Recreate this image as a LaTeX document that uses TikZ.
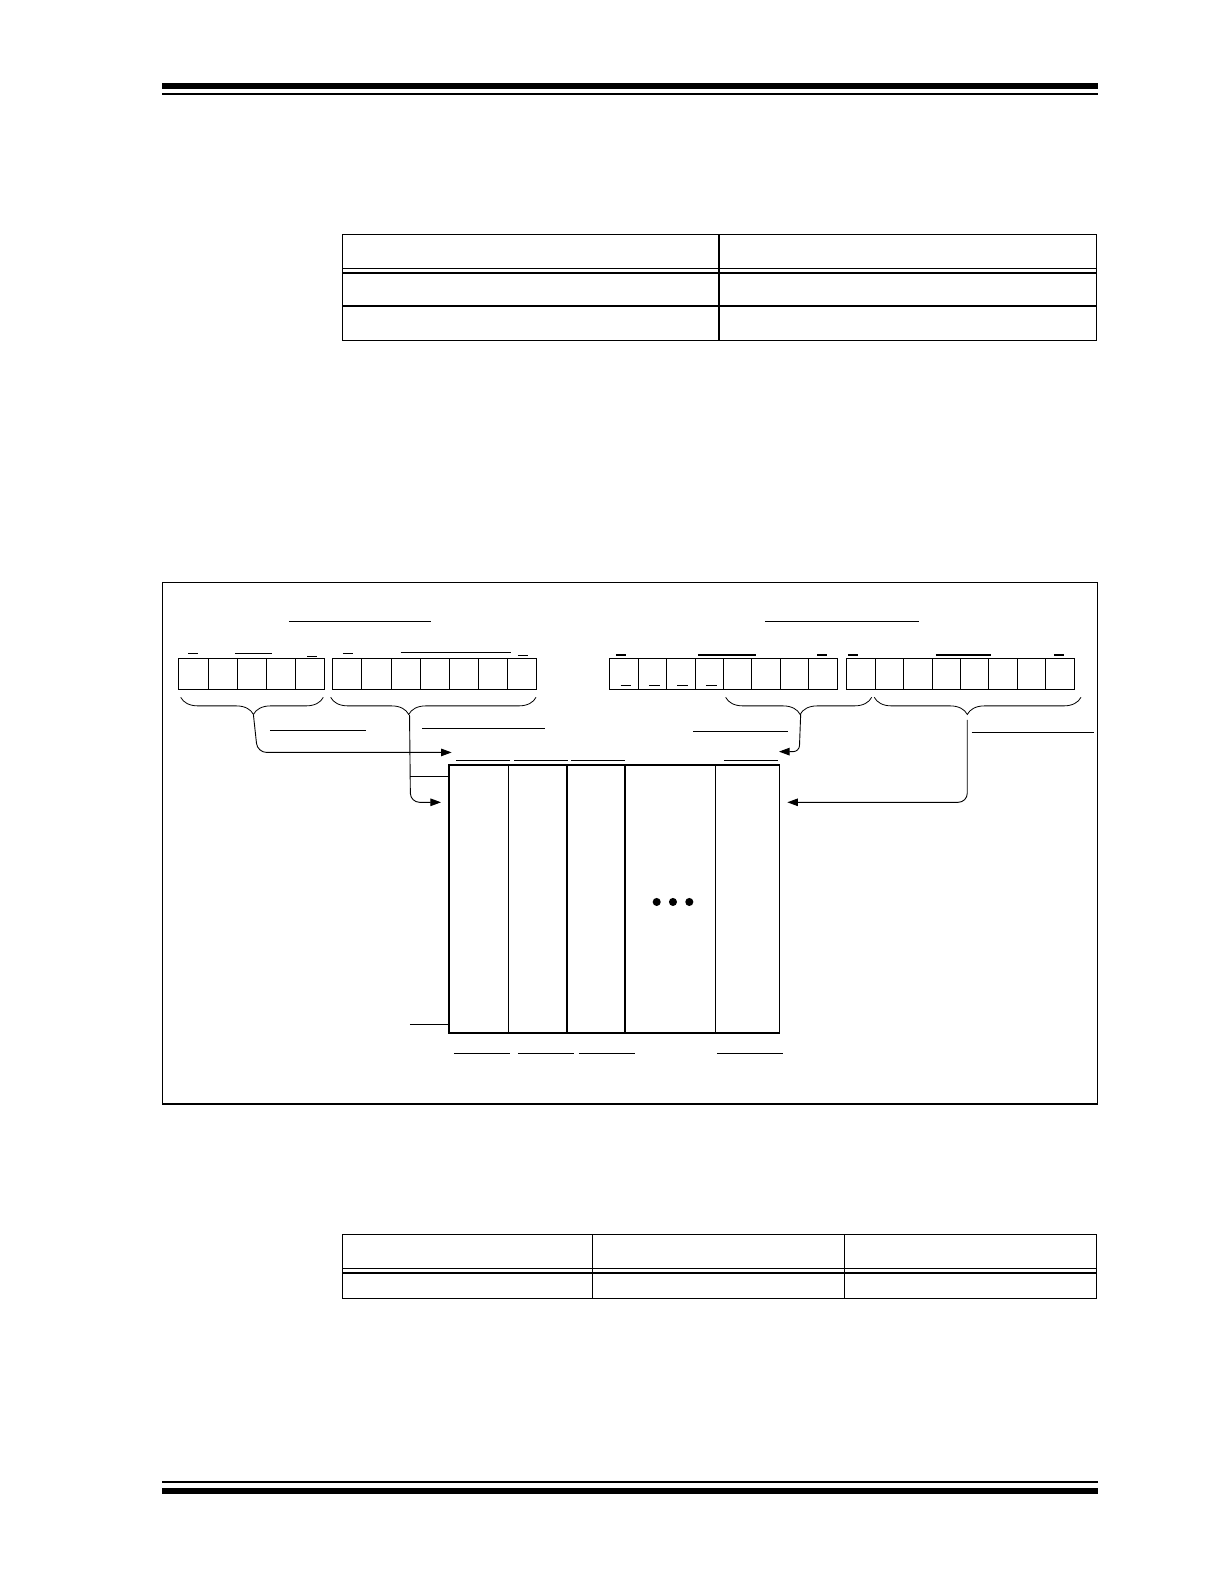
\documentclass[tikz,border=0pt]{standalone}
\usetikzlibrary{arrows.meta,decorations.pathreplacing,positioning}
\begin{document}
\begin{tikzpicture}[x=1pt, y=-1pt,
    frame/.style={line width=1.2pt},
    cell/.style={draw, line width=0.9pt, minimum height=30.5pt, inner sep=0pt, anchor=west},
    col/.style={draw, line width=1.2pt, minimum height=265.4pt, inner sep=0pt, anchor=north west},
    bar/.style={line width=0.9pt},
    hbar/.style={line width=1.8pt},
    brc/.style={decorate, decoration={brace, mirror, amplitude=17pt, aspect=#1}, line width=0.8pt},
    arr/.style={-{Triangle[length=10.5pt,width=7.5pt]}, line width=0.9pt, rounded corners=9pt}]
  \useasboundingbox (0,0) rectangle (1212.2,1568.8);
  \fill (160.7,81.9) rectangle (1087,88.1);
  \fill (160.7,91.8) rectangle (1087,93.8);
  \fill (160.7,1466.8) rectangle (1087,1468.8);
  \fill (160.7,1474) rectangle (1087,1479.7);
  \draw[frame]
    (339,232.1) rectangle (1086,337.4)
    (339,265.8) -- (1086,265.8)
    (339,270.4) -- (1086,270.4)
    (339,303.1) -- (1086,303.1)
    (712,232.1) -- (712,337.4)
  ;
  \draw[frame]
    (339,1222.5) rectangle (1086,1285.9)
    (339,1256.5) -- (1086,1256.5)
    (339,1260.8) -- (1086,1260.8)
    (587,1222.5) -- (587,1285.9)
    (836,1222.5) -- (836,1285.9)
  ;
  \draw[frame] (160.7,576.7) rectangle (1086.8,1093.4);
  \foreach \i in {1,...,5}
    \node[cell, minimum width=28.92] (ra\i) at ({176.6+(\i-1)*28.92},667.4) {};
  \foreach \i in {1,...,7}
    \node[cell, minimum width=28.87] (rb\i) at ({329.1+(\i-1)*28.87},667.4) {};
  \foreach \i in {1,...,8}
    \node[cell, minimum width=28.14] (rc\i) at ({603.5+(\i-1)*28.14},667.8) {};
  \foreach \i in {1,...,8}
    \node[cell, minimum width=28.15] (rd\i) at ({838.2+(\i-1)*28.15},667.8) {};
  \foreach \i in {1,...,4}
    \draw[bar] ([xshift=-3.4pt,yshift=5pt]rc\i.south) -- ++(10.7,0);
  \draw[bar]
    (286.2,615) -- (426.9,615)  (757.6,615) -- (910.2,615)
    (186.5,647.1) -- (195.8,647.1)  (232.7,647.1) -- (269.1,647.1)
    (304.1,649.7) -- (313.6,649.7)
    (339.7,647.1) -- (349.3,647.1)  (396.8,646.4) -- (506.1,646.4)
    (513,649) -- (522.9,649)
    (267.4,723) -- (362.2,723)  (418.3,721.7) -- (539.8,721.7)
    (686.7,724.3) -- (780.4,724.3)  (962.3,725.3) -- (1083,725.3)
  ;
  \draw[hbar]
    (610.1,648.4) -- (620,648.4)  (691.6,648.4) -- (748.7,648.4)
    (809.2,648.4) -- (819.1,648.4)
    (840.2,648.4) -- (849.8,648.4)  (927,648.4) -- (981.5,648.4)
    (1044.2,648.4) -- (1053.8,648.4)
  ;
  \draw[brc=0.51] (179,690.6) -- (320.2,690.6);
  \draw[brc=0.38] (327.5,690.6) -- (530.9,690.6);
  \draw[brc=0.51] (718.7,690.6) -- (863.3,690.6);
  \draw[brc=0.45] (865.9,690.6) -- (1070.6,690.6);
  \foreach \l/\w [count=\i] in {444/59.4, 503.4/57.5, 560.9/57.4, 618.3/90.1, 708.4/63.4}
    \node[col, minimum width=\w] (c\i) at (\l,757) {};
  \foreach \x in {650.4,666.5,682.7}
    \fill (\x,893.3) circle (4);
  \draw[bar]
    (451.6,753) -- (505.1,753)  (509.1,753) -- (562.5,753)
    (565.5,753) -- (619,753)  (717,753) -- (770.5,753)
    (449.6,1043.2) -- (505.1,1043.2)  (513,1043.2) -- (568.5,1043.2)
    (573.4,1043.2) -- (628.9,1043.2)  (710.1,1043.2) -- (775.5,1043.2)
  ;
  \coordinate (t1) at (251,708);
  \coordinate (t2) at (405.6,708);
  \coordinate (t3) at (793,707);
  \coordinate (t4) at (958,713);
  \coordinate (in1) at (447.3,745.2);
  \coordinate (in2) at (436.8,794.6);
  \coordinate (in3) at (771.5,744.4);
  \coordinate (in4) at (779.8,794.6);
  \coordinate (k1) at (406.5,768.6);
  \coordinate (k2) at (406,1014.5);
  \draw[arr] (t1) -- (255,745.2) -- (in1);
  \draw[arr] (t2) -- (406.5,794.6) -- (in2);
  \draw[arr, rounded corners=6pt] (t3) -- (791.6,744.4) -- (in3);
  \draw[arr] (t4) -- (958,794.6) -- (in4);
  \draw[bar] (k1) -- (k1 -| c1.west);
  \draw[bar] (k2) -- (k2 -| c1.west);
\end{tikzpicture}
\end{document}
